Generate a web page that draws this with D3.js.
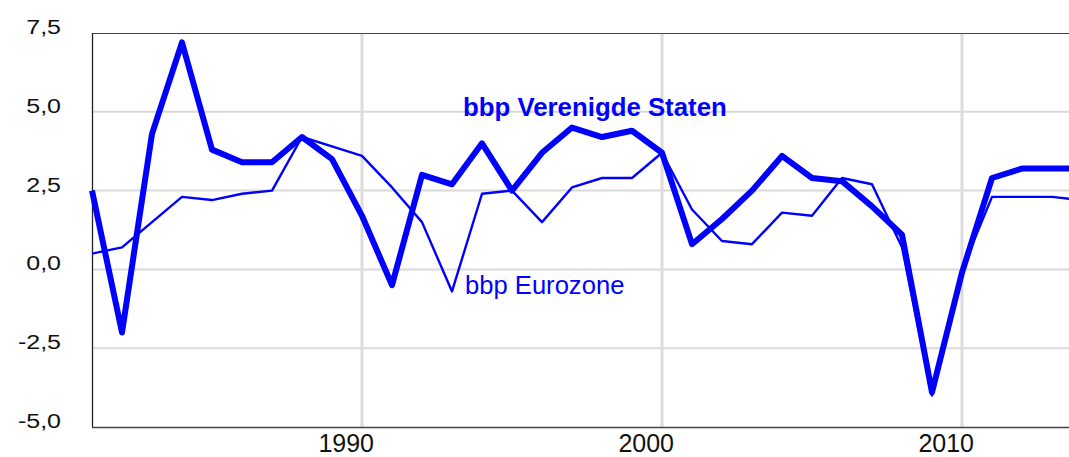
<!DOCTYPE html>
<html>
<head>
<meta charset="utf-8">
<script src="https://d3js.org/d3.v7.min.js"></script>
<style>
  body { margin: 0; background: #fff; }
  text { font-family: "Liberation Sans", Arial, Helvetica, sans-serif; }
</style>
</head>
<body>
<div id="chart"></div>
<script>
// Economische groei (bbp, %) VS en Eurozone
const years = d3.range(1981, 2015);

const usGdp = [2.5, -2.0, 4.3, 7.2, 3.8, 3.4, 3.4, 4.2, 3.5, 1.7,
               -0.5, 3.0, 2.7, 4.0, 2.5, 3.7, 4.5, 4.2, 4.4, 3.7,
               0.8, 1.6, 2.5, 3.6, 2.9, 2.8, 2.0, 1.1, -3.9, -0.1,
               2.9, 3.2, 3.2, 3.2];

const euroGdp = [0.5, 0.7, 1.5, 2.3, 2.2, 2.4, 2.5, 4.2, 3.9, 3.6,
                 2.6, 1.5, -0.7, 2.4, 2.5, 1.5, 2.6, 2.9, 2.9, 3.7,
                 1.9, 0.9, 0.8, 1.8, 1.7, 2.9, 2.7, 0.7, -4.0, 0.0,
                 2.3, 2.3, 2.3, 2.2];

const yTicks = [-5, -2.5, 0, 2.5, 5, 7.5];
const xTicks = [1990, 2000, 2010];

const usLabel = "bbp Verenigde Staten";
const euroLabel = "bbp Eurozone";

// Setup
const width = 1069;
const height = 457;
const plotLeft = 92, plotTop = 33, plotBottom = 427;
const plotRight = plotLeft + 30 * (years[years.length - 1] - years[0]);

const nl = d3.formatLocale({decimal: ",", thousands: ".", grouping: [3],
                            currency: ["€", ""], minus: "-"});
const fmt = nl.format(".1f");

const svg = d3.select("#chart")
              .append("svg")
              .attr("width", width)
              .attr("height", height);

const x = d3.scaleLinear()
            .domain([years[0], years[years.length - 1]])
            .range([plotLeft, plotRight]);

const y = d3.scaleLinear()
            .domain([-5, 7.5])
            .range([plotBottom, plotTop]);

// gridlines
svg.append("g")
   .selectAll("line")
   .data(yTicks.filter(d => d > -5 && d < 7.5))
   .enter().append("line")
     .attr("x1", plotLeft)
     .attr("x2", width)
     .attr("y1", d => y(d))
     .attr("y2", d => y(d))
     .style("stroke", "#d9d9d9")
     .style("stroke-width", 2);

svg.append("g")
   .selectAll("line")
   .data(xTicks)
   .enter().append("line")
     .attr("x1", d => x(d))
     .attr("x2", d => x(d))
     .attr("y1", plotTop)
     .attr("y2", plotBottom)
     .style("stroke", "#dcdcdc")
     .style("stroke-width", 3);

// frame: top, left, bottom
svg.append("line")
   .attr("x1", plotLeft).attr("x2", width)
   .attr("y1", plotTop + 0.5).attr("y2", plotTop + 0.5)
   .style("stroke", "#444").style("stroke-width", 1.2);

svg.append("line")
   .attr("x1", plotLeft + 0.5).attr("x2", plotLeft + 0.5)
   .attr("y1", plotTop).attr("y2", plotBottom)
   .style("stroke", "#222").style("stroke-width", 1.3);

svg.append("line")
   .attr("x1", plotLeft).attr("x2", width)
   .attr("y1", plotBottom + 0.5).attr("y2", plotBottom + 0.5)
   .style("stroke", "#444").style("stroke-width", 1.3);

// tick labels
svg.append("g")
   .selectAll("text")
   .data(yTicks)
   .enter().append("text")
     .attr("transform", d => `translate(61,${y(d) + 1}) scale(1,0.8)`)
     .attr("text-anchor", "end")
     .style("font-size", "25px")
     .style("fill", "#111")
     .text(d => fmt(d));

svg.append("g")
   .selectAll("text")
   .data(xTicks)
   .enter().append("text")
     .attr("x", d => x(d) + 12)
     .attr("y", 452)
     .attr("text-anchor", "end")
     .style("font-size", "25px")
     .style("fill", "#111")
     .text(d => d);

// lines
const line = values => d3.line()
                         .x((d, i) => x(years[i]))
                         .y(d => y(d))(values);

svg.append("path")
   .attr("d", line(euroGdp))
   .style("fill", "none")
   .style("stroke", "#0000ff")
   .style("stroke-width", 2.4)
   .style("stroke-linejoin", "round");

svg.append("path")
   .attr("d", line(usGdp))
   .style("fill", "none")
   .style("stroke", "#0000ff")
   .style("stroke-width", 6)
   .style("stroke-linejoin", "round");

// series labels
svg.append("text")
   .attr("x", 463)
   .attr("y", 116)
   .style("font-size", "25.8px")
   .style("font-weight", "bold")
   .style("fill", "#0000ff")
   .text(usLabel);

svg.append("text")
   .attr("x", 465)
   .attr("y", 294)
   .style("font-size", "25.6px")
   .style("fill", "#0000ff")
   .text(euroLabel);
</script>
</body>
</html>
